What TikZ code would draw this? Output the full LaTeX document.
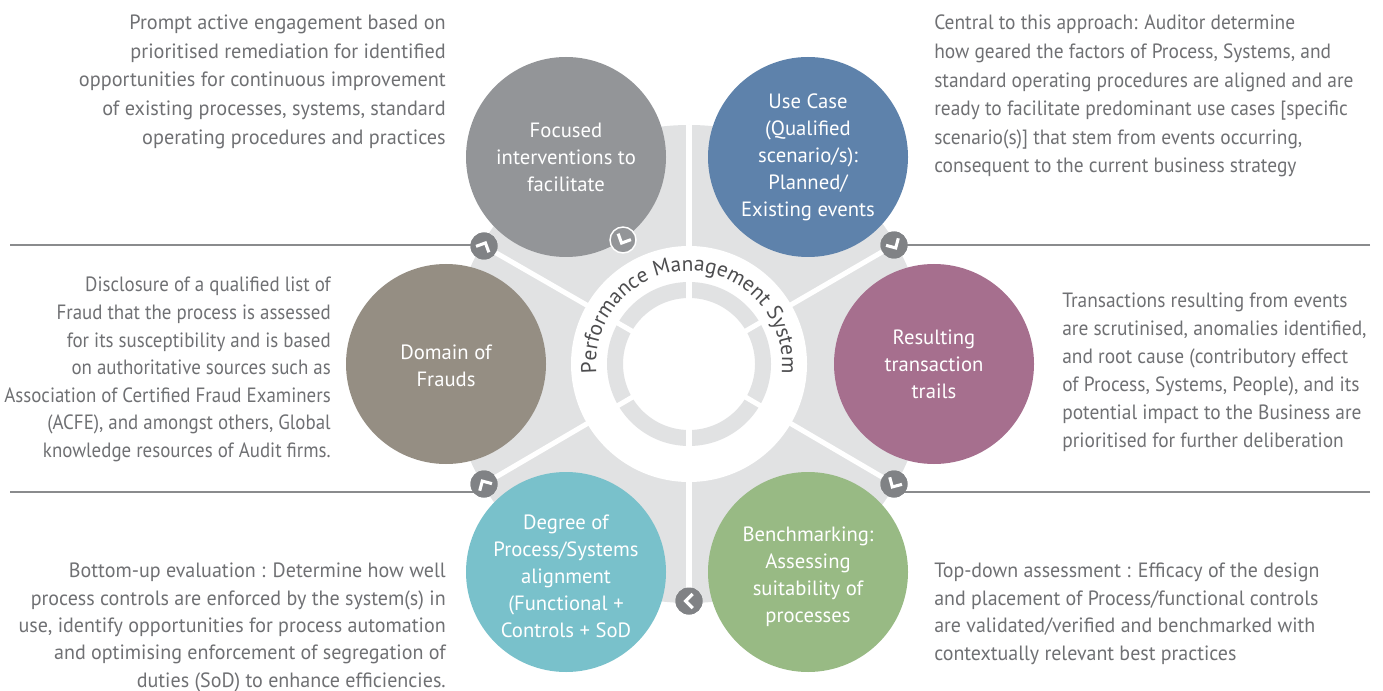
\documentclass[tikz,border=0pt]{standalone}
\usepackage{fontspec}
\setmainfont{PT Sans}
\newfontfamily\sideTL[FakeStretch=0.98]{PT Sans}
\newfontfamily\sideTR[FakeStretch=0.94]{PT Sans}
\newfontfamily\sideML[FakeStretch=0.915]{PT Sans}
\newfontfamily\sideMR[FakeStretch=0.94]{PT Sans}
\newfontfamily\sideBL[FakeStretch=0.97]{PT Sans}
\newfontfamily\sideBR[FakeStretch=0.965]{PT Sans}
\usetikzlibrary{calc,decorations.text}
\definecolor{cFocus}{HTML}{939598}
\definecolor{cBlue}{HTML}{5E82AB}
\definecolor{cPurple}{HTML}{A66F8E}
\definecolor{cGreen}{HTML}{98BA84}
\definecolor{cTeal}{HTML}{79C1CB}
\definecolor{cBrown}{HTML}{958E83}
\definecolor{cDisk}{HTML}{E1E2E3}
\definecolor{cText}{HTML}{6F7073}
\definecolor{cArc}{HTML}{4D4D4F}
\definecolor{cLine}{HTML}{8A8B8D}
\definecolor{cMark}{HTML}{808285}
\newcommand\mychev[2]{%
  \pgfmathsetmacro\chA{-(#2)}%
  \pgfmathsetmacro\chB{-(#2)-135}%
  \pgfmathsetmacro\chC{-(#2)+135}%
  \draw[chevline] ($(#1)+(\chA:3.4)+(\chB:10)$) -- ($(#1)+(\chA:3.4)$) -- ($(#1)+(\chA:3.4)+(\chC:10)$);}
\tikzset{
  bubble/.style={circle, minimum size=150pt, inner sep=0pt, text=white, align=center,
    font=\fontsize{15.5}{20.2}\selectfont},
  marker/.style={circle, fill=cMark, minimum size=20.25pt, inner sep=0pt},
  startmark/.style={circle, fill=cFocus, draw=white, line width=1.1pt, minimum size=19.5pt, inner sep=0pt},
  chevline/.style={white, line width=2.3pt, line cap=butt, line join=miter},
  spoke/.style={white, line width=3.8pt},
  hline/.style={cLine, line width=1pt},
  sidetext/.style={text=cText, inner sep=0pt},
}
\begin{document}
\begin{tikzpicture}[x=0.75pt, y=-0.75pt]
\useasboundingbox (0,0) rectangle (1383,691);
\coordinate (C) at (689,364);
% background disk
\fill[cDisk] (C) circle[radius=179.25pt];
\fill[white] (C) circle[radius=88.5pt];
\fill[cDisk, even odd rule] (C) circle[radius=61.5pt] (C) circle[radius=49.5pt];
% markers (positions)
\node[marker] (mTL) at (484,246) {};
\node[marker] (mTR) at (894,245) {};
\node[marker] (mBL) at (484,484) {};
\node[marker] (mBR) at (894,484) {};
\node[marker] (mB)  at (689,601) {};
% spokes
\coordinate (sTop) at (689,125);
\draw[spoke] (C) -- (sTop);
\draw[spoke] (C) -- (mB.center);
\draw[spoke] (C) -- (mTL.center);
\draw[spoke] (C) -- (mTR.center);
\draw[spoke] (C) -- (mBL.center);
\draw[spoke] (C) -- (mBR.center);
% horizontal rules
\coordinate (l1) at (10,245);
\coordinate (r1) at (1370,245);
\coordinate (l2) at (10,492);
\coordinate (r2) at (1370,492);
\draw[hline] (l1) -- (l1 -| mTL);
\draw[hline] (r1) -- (r1 -| mTR);
\draw[hline] (l2) -- (l2 -| mBL);
\draw[hline] (r2) -- (r2 -| mBR);
% redraw markers on top
\node[marker] at (mTL) {};
\node[marker] at (mTR) {};
\node[marker] at (mBL) {};
\node[marker] at (mBR) {};
\node[marker] at (mB) {};
% bubbles
\node[bubble, fill=cFocus]  (focus)  at (566,157) {Focused\\interventions to\\facilitate};
\node[bubble, fill=cBlue]   (usecase) at (808,157) {Use Case\\(Qualified\\scenario/s):\\Planned/\\Existing events};
\node[bubble, fill=cPurple] (trail)  at (934,364) {Resulting\\transaction\\trails};
\node[bubble, fill=cGreen]  (bench)  at (808,572) {};
\node[bubble, fill=cTeal]   (degree) at (566,572) {};
\node[bubble, fill=cBrown]  (domain) at (446,364) {};
\node[bubble] (benchT)  at (808,577) {Benchmarking:\\Assessing\\suitability of\\processes};
\node[bubble] (degreeT) at (566,576) {Degree of\\Process/Systems\\alignment\\(Functional +\\Controls + SoD};
\node[bubble] (domainT) at (446,366) {Domain of\\Frauds};
% start marker
\node[startmark] (mS) at (623,240) {};
% chevrons
\mychev{mTL}{65}
\mychev{mTR}{300}
\mychev{mBR}{240}
\mychev{mB}{180}
\mychev{mBL}{120}
\mychev{mS}{245}
% arc text
\path[decorate, decoration={text along path, text align=center, text color=cArc,
  text={|\fontsize{16}{18}\selectfont|Performance Management System}}]
  ($(C)+(168:93)$) arc[start angle=168, end angle=372, radius=93];
% side texts
\node[sidetext, align=right, anchor=north east, font=\sideTL\fontsize{15.5}{21.4}\selectfont] (tTL) at (446,15) {Prompt active engagement based on\\prioritised remediation for identified\\opportunities for continuous improvement\\of existing processes, systems, standard\\operating procedures and practices};
\node[sidetext, align=left, anchor=north west, font=\sideTR\fontsize{15.5}{21.4}\selectfont] (tTR) at (934,15) {Central to this approach: Auditor determine\\how geared the factors of Process, Systems, and\\standard operating procedures are aligned and are\\ready to facilitate predominant use cases [specific\\scenario(s)] that stem from events occurring,\\consequent to the current business strategy};
\node[sidetext, align=right, anchor=north east, font=\sideML\fontsize{15.5}{20.7}\selectfont] (tML) at (331,277) {Disclosure of a qualified list of\\Fraud that the process is assessed\\for its susceptibility and is based\\on authoritative sources such as\\Association of Certified Fraud Examiners\\(ACFE), and amongst others, Global\\knowledge resources of Audit firms.};
\node[sidetext, align=left, anchor=north west, font=\sideMR\fontsize{15.5}{21}\selectfont] (tMR) at (1062,293) {Transactions resulting from events\\are scrutinised, anomalies identified,\\and root cause (contributory effect\\of Process, Systems, People), and its\\potential impact to the Business are\\prioritised for further deliberation};
\node[sidetext, align=right, anchor=north east, font=\sideBL\fontsize{15.5}{20.5}\selectfont] (tBL) at (446,563) {Bottom-up evaluation : Determine how well\\process controls are enforced by the system(s) in\\use, identify opportunities for process automation\\and optimising enforcement of segregation of\\duties (SoD) to enhance efficiencies.};
\node[sidetext, align=left, anchor=north west, font=\sideBR\fontsize{15.5}{20.6}\selectfont] (tBR) at (934,563) {Top-down assessment : Efficacy of the design\\and placement of Process/functional controls\\are validated/verified and benchmarked with\\contextually relevant best practices};
\end{tikzpicture}
\end{document}
